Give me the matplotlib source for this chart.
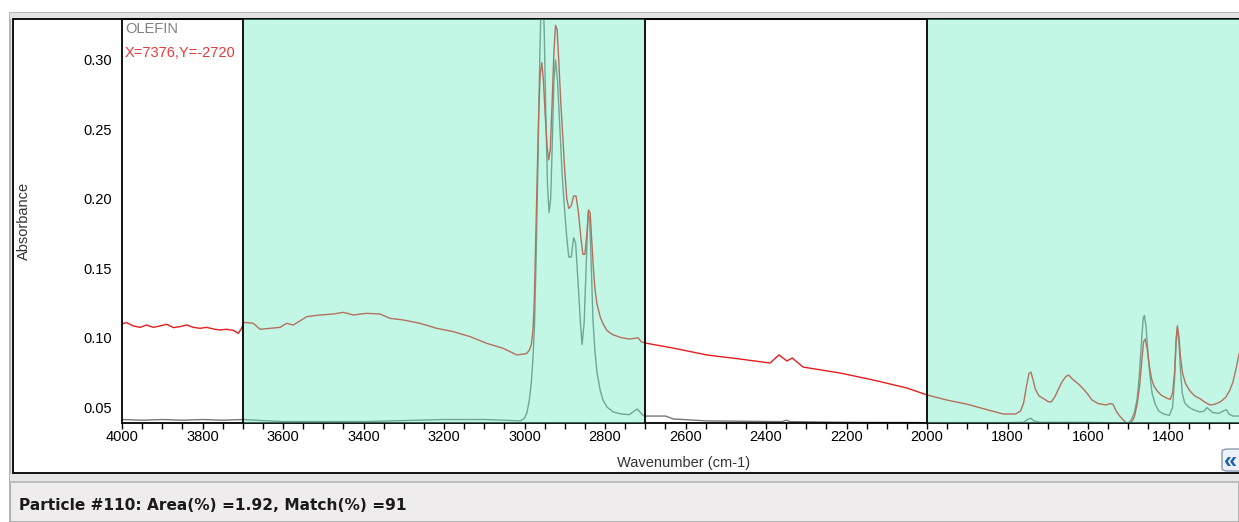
import matplotlib.pyplot as plt
from matplotlib.patches import Rectangle, FancyBboxPatch
from matplotlib.ticker import MultipleLocator

plt.rcParams['font.family'] = ['Liberation Sans', 'DejaVu Sans']

W, H = 1239, 522

# sample spectrum (red)
sample_wn = [4000, 3988, 3972, 3955, 3939, 3922, 3906, 3889, 3872, 3856, 3839, 3823, 3806, 3790,
             3773, 3757, 3740, 3723, 3711, 3703, 3697, 3674, 3657, 3632, 3607, 3591, 3574, 3554,
             3541, 3508, 3475, 3450, 3425, 3392, 3359, 3334, 3301, 3260, 3218, 3177, 3135, 3094,
             3053, 3019, 2995, 2988, 2983, 2979, 2976, 2973, 2969, 2965, 2961, 2957, 2953, 2949,
             2944, 2940, 2936, 2932, 2927, 2923, 2919, 2915, 2910, 2905, 2900, 2895, 2890, 2884,
             2878, 2872, 2866, 2860, 2855, 2850, 2845, 2841, 2837, 2833, 2829, 2825, 2820, 2812,
             2805, 2795, 2780, 2760, 2740, 2725, 2718, 2710, 2700, 2631, 2547, 2465, 2390, 2368,
             2348, 2335, 2308, 2216, 2134, 2050, 2000, 1950, 1900, 1850, 1811, 1780, 1768, 1760,
             1753, 1747, 1742, 1737, 1731, 1722, 1710, 1700, 1692, 1683, 1675, 1665, 1655, 1648,
             1640, 1630, 1620, 1610, 1600, 1590, 1575, 1555, 1545, 1538, 1530, 1520, 1510, 1500,
             1492, 1485, 1478, 1472, 1466, 1462, 1458, 1453, 1448, 1442, 1436, 1428, 1418, 1405,
             1396, 1390, 1385, 1381, 1378, 1374, 1370, 1365, 1358, 1348, 1335, 1322, 1310, 1297,
             1285, 1270, 1258, 1248, 1240, 1232, 1225]
sample_abs = [0.1100, 0.1108, 0.1084, 0.1074, 0.1091, 0.1074, 0.1084, 0.1096, 0.1072, 0.1079,
              0.1091, 0.1074, 0.1067, 0.1074, 0.1062, 0.1055, 0.1060, 0.1052, 0.1031, 0.1067,
              0.1110, 0.1103, 0.1060, 0.1067, 0.1074, 0.1103, 0.1091, 0.1127, 0.1151, 0.1163,
              0.1170, 0.1182, 0.1163, 0.1175, 0.1170, 0.1139, 0.1127, 0.1103, 0.1067, 0.1043,
              0.1007, 0.0959, 0.0923, 0.0875, 0.0885, 0.0910, 0.0950, 0.1050, 0.1250, 0.1600,
              0.2100, 0.2600, 0.2900, 0.2980, 0.2850, 0.2620, 0.2380, 0.2280, 0.2350, 0.2650,
              0.3050, 0.3250, 0.3220, 0.3000, 0.2700, 0.2450, 0.2200, 0.2000, 0.1930, 0.1950,
              0.2020, 0.2020, 0.1900, 0.1720, 0.1600, 0.1600, 0.1750, 0.1920, 0.1900, 0.1700,
              0.1500, 0.1350, 0.1240, 0.1150, 0.1100, 0.1050, 0.1020, 0.1000, 0.0990, 0.0995,
              0.1000, 0.0970, 0.0961, 0.0925, 0.0875, 0.0846, 0.0817, 0.0875, 0.0832, 0.0853,
              0.0788, 0.0745, 0.0695, 0.0637, 0.0587, 0.0550, 0.0520, 0.0480, 0.0450, 0.0450,
              0.0470, 0.0530, 0.0650, 0.0740, 0.0752, 0.0700, 0.0630, 0.0580, 0.0560, 0.0540,
              0.0536, 0.0570, 0.0620, 0.0680, 0.0720, 0.0730, 0.0705, 0.0680, 0.0655, 0.0625,
              0.0590, 0.0550, 0.0525, 0.0515, 0.0525, 0.0520, 0.0470, 0.0430, 0.0400, 0.0375,
              0.0390, 0.0430, 0.0520, 0.0650, 0.0850, 0.0970, 0.0990, 0.0920, 0.0800, 0.0700,
              0.0650, 0.0615, 0.0585, 0.0565, 0.0555, 0.0600, 0.0750, 0.1000, 0.1085, 0.1000,
              0.0850, 0.0740, 0.0670, 0.0620, 0.0580, 0.0560, 0.0535, 0.0515, 0.0520, 0.0540,
              0.0570, 0.0620, 0.0680, 0.0780, 0.0880]

# library reference spectrum (OLEFIN)
ref_wn = [4000, 3950, 3900, 3850, 3800, 3750, 3700, 3600, 3400, 3200, 3100, 3050, 3010, 3000,
          2994, 2988, 2983, 2979, 2975, 2971, 2967, 2963, 2959, 2955, 2951, 2947, 2943, 2939,
          2935, 2931, 2927, 2923, 2918, 2912, 2906, 2900, 2895, 2890, 2884, 2878, 2873, 2867,
          2861, 2857, 2852, 2847, 2842, 2838, 2834, 2830, 2825, 2820, 2812, 2805, 2795, 2780,
          2760, 2740, 2728, 2720, 2712, 2705, 2700, 2650, 2630, 2547, 2360, 2350, 2340, 2200,
          2000, 1800, 1760, 1750, 1742, 1735, 1720, 1600, 1500, 1492, 1485, 1478, 1472, 1467,
          1463, 1460, 1456, 1452, 1447, 1441, 1433, 1424, 1412, 1398, 1390, 1385, 1381, 1378,
          1374, 1370, 1366, 1360, 1350, 1338, 1322, 1312, 1305, 1298, 1290, 1275, 1262, 1256,
          1250, 1240, 1225]
ref_abs = [0.0410, 0.0405, 0.0410, 0.0405, 0.0410, 0.0405, 0.0410, 0.0395, 0.0395, 0.0410,
           0.0410, 0.0405, 0.0400, 0.0420, 0.0460, 0.0550, 0.0680, 0.0850, 0.1100, 0.1600,
           0.2200, 0.2900, 0.3400, 0.3600, 0.3200, 0.2600, 0.2100, 0.1900, 0.2000, 0.2400,
           0.2850, 0.3000, 0.2850, 0.2500, 0.2150, 0.1900, 0.1720, 0.1580, 0.1580, 0.1720,
           0.1680, 0.1400, 0.1100, 0.0950, 0.1100, 0.1500, 0.1900, 0.1850, 0.1500, 0.1130,
           0.0900, 0.0750, 0.0620, 0.0550, 0.0500, 0.0465, 0.0450, 0.0445, 0.0470, 0.0486,
           0.0460, 0.0440, 0.0435, 0.0435, 0.0414, 0.0400, 0.0395, 0.0405, 0.0395, 0.0390,
           0.0388, 0.0388, 0.0390, 0.0410, 0.0420, 0.0400, 0.0390, 0.0390, 0.0385, 0.0410,
           0.0460, 0.0560, 0.0750, 0.0980, 0.1140, 0.1160, 0.1080, 0.0920, 0.0750, 0.0600,
           0.0520, 0.0470, 0.0450, 0.0440, 0.0500, 0.0700, 0.0980, 0.1070, 0.0950, 0.0750,
           0.0600, 0.0530, 0.0500, 0.0480, 0.0465, 0.0470, 0.0495, 0.0480, 0.0460, 0.0455,
           0.0475, 0.0480, 0.0450, 0.0435, 0.0435]

regions = [(3700, 2700), (2000, 1225)]
y_ticks = [0.05, 0.10, 0.15, 0.20, 0.25, 0.30]
x_major = [4000, 3800, 3600, 3400, 3200, 3000, 2800, 2600, 2400, 2200, 2000, 1800, 1600, 1400]


def fx(x):
    return x / W


def fy(y):
    return 1 - y / H


fig = plt.figure(figsize=(W / 100, H / 100), dpi=100)

# window chrome
fig.patches.append(Rectangle((fx(10), 0), fx(W - 10), fy(12.5), transform=fig.transFigure,
                             facecolor='#eeecec', edgecolor='#a8a8a8', lw=1.2, zorder=-10))
fig.patches.append(Rectangle((fx(10), fy(19)), fx(W), fy(12.5) - fy(19), transform=fig.transFigure,
                             facecolor='#e2e2e2', edgecolor='none', zorder=-9))
fig.patches.append(Rectangle((fx(13), fy(473)), fx(W + 10), fy(19) - fy(473), transform=fig.transFigure,
                             facecolor='white', edgecolor='black', lw=1.3, zorder=-8))
fig.patches.append(Rectangle((fx(10), fy(482)), fx(W), fy(474) - fy(482), transform=fig.transFigure,
                             facecolor='#e6e6e6', edgecolor='none', zorder=-8))
fig.lines.append(plt.Line2D([fx(10), 1], [fy(482), fy(482)], transform=fig.transFigure,
                            color='#b4b4b4', lw=1.2, zorder=-7))

ax = fig.add_axes([fx(122), fy(423), fx(W - 122), fy(19) - fy(423)])
ax.patch.set_alpha(0)

ax.plot(ref_wn, ref_abs, color='#767676', lw=1.0, zorder=2)
ax.plot(sample_wn, sample_abs, color='#e41e1e', lw=1.0, zorder=2)

for a, b in regions:
    ax.axvspan(a, b, color='#6bedc0', alpha=0.4, lw=0, zorder=3)
for x in [3700, 2700, 2000]:
    ax.axvline(x, color='black', lw=1.3, zorder=4)

ax.set_xlim(4000, 1225)
ax.set_ylim(0.0385, 0.3295)
ax.set_xticks(x_major)
ax.xaxis.set_minor_locator(MultipleLocator(50))
ax.set_yticks(y_ticks)
ax.set_yticklabels([f'{v:.2f}' for v in y_ticks])
ax.tick_params(axis='x', which='both', direction='out', length=4, width=1, pad=1,
               labelsize=10.5, colors='black')
ax.tick_params(axis='y', length=0, pad=7, labelsize=10.5)
ax.spines['right'].set_visible(False)
for s in ['left', 'bottom', 'top']:
    ax.spines[s].set_linewidth(1.3)

fig.text(fx(684), fy(463), 'Wavenumber (cm-1)', ha='center', va='center', fontsize=10.5, color='#333333')
fig.text(fx(24), fy(221), 'Absorbance', ha='center', va='center', rotation=90, fontsize=10.5,
         color='#333333')
fig.text(fx(125), fy(29), 'OLEFIN', ha='left', va='center', fontsize=10.5, color='#808080')
fig.text(fx(125), fy(53), 'X=7376,Y=-2720', ha='left', va='center', fontsize=10.5, color='#e03c3c')

fig.text(fx(19), fy(506), 'Particle #110: Area(%) =1.92, Match(%) =91', ha='left', va='center',
         fontsize=11.1, fontweight='bold', family=['DejaVu Sans'], color='#1a1a1a')

# cropped scroll button
fig.patches.append(FancyBboxPatch((fx(1222), fy(471)), fx(30), fy(449) - fy(471),
                                  boxstyle='round,pad=0,rounding_size=0.005', transform=fig.transFigure,
                                  facecolor='#eef2f8', edgecolor='#8a9ab0', lw=1.0, zorder=5))
fig.text(fx(1224), fy(461), '«', ha='left', va='center', fontsize=17, fontweight='bold',
         color='#1f5fb0', zorder=6)

fig.savefig('out.png', dpi=100)
